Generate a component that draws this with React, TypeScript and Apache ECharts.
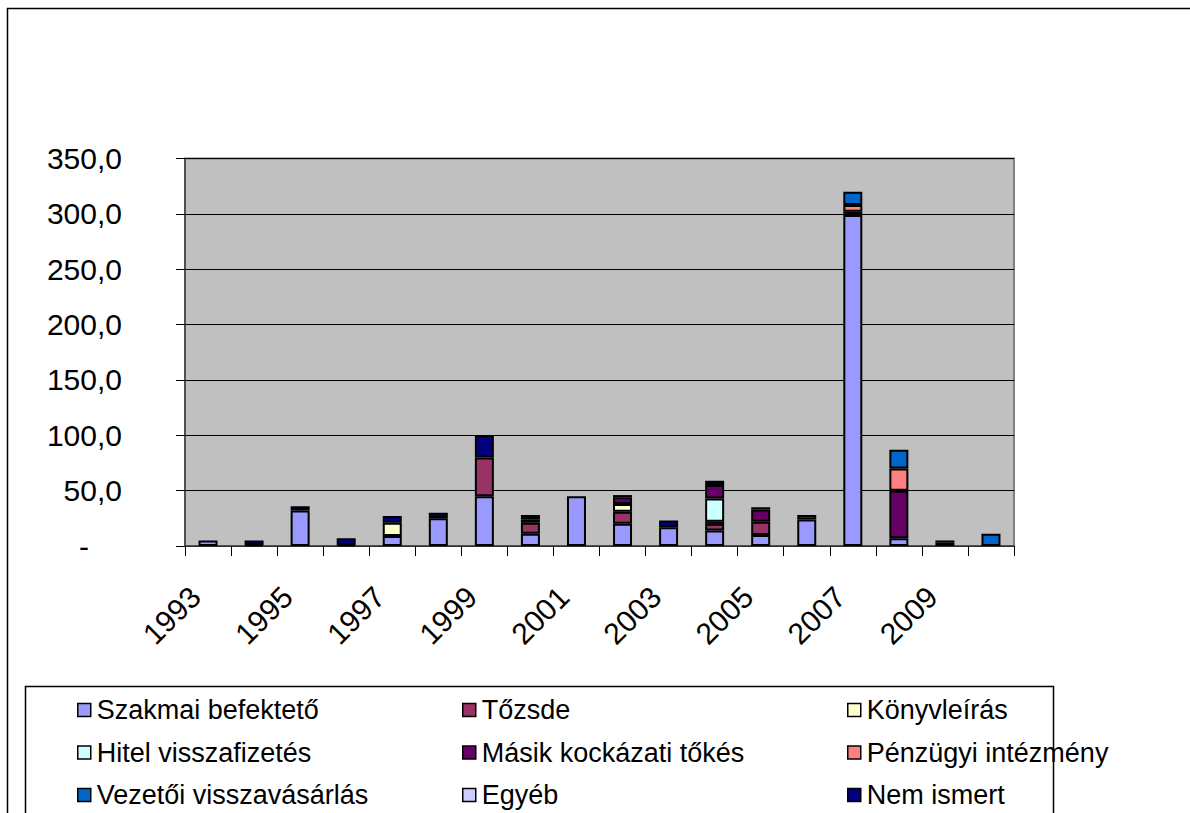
import React, { useEffect, useRef } from "react";
import * as echarts from "echarts";

const years = ["1993","1994","1995","1996","1997","1998","1999","2000","2001","2002","2003","2004","2005","2006","2007","2008","2009","2010"];

const seriesNames = [
  "Szakmai befektető",
  "Tőzsde",
  "Könyvleírás",
  "Hitel visszafizetés",
  "Másik kockázati tőkés",
  "Pénzügyi intézmény",
  "Vezetői visszavásárlás",
  "Egyéb",
  "Nem ismert",
];

const colors = ["#9999FF","#993366","#FFFFCC","#CCFFFF","#660066","#FF8080","#0066CC","#CCCCFF","#000080"];

const szakmai   = [5, 0, 32, 0, 9, 25, 45, 11, 45, 20, 17, 14, 10, 24, 299, 7, 0, 0];
const tozsde    = [0, 0, 0, 1, 0, 0, 35, 10, 0, 11, 0, 6, 12, 0, 0, 0, 0, 0];
const konyv     = [0, 1, 0, 0, 12, 0, 0, 0, 0, 7, 0, 2, 0, 0, 0, 0, 0, 0];
const hitel     = [0, 0, 0, 0, 0, 0, 0, 0, 0, 0, 0, 21, 0, 0, 0, 0, 0, 0];
const masik     = [0, 0, 0, 0, 0, 0, 0, 3, 0, 6, 0, 12, 11, 0, 3, 43, 0, 0];
const penzugyi  = [0, 0, 0, 0, 0, 0, 0, 0, 0, 0, 0, 0, 0, 0, 6, 20, 0, 0];
const vezetoi   = [0, 0, 0, 0, 0, 0, 0, 0, 0, 0, 0, 0, 0, 4, 12, 17, 3, 11];
const egyeb     = [0, 0, 0, 0, 0, 0, 0, 0, 0, 0, 0, 0, 0, 0, 0, 0, 0, 0];
const nemIsmert = [0, 4, 4, 6, 6, 5, 20, 4, 0, 2, 6, 4, 2, 0, 0, 0, 2, 0];

const allData = [szakmai, tozsde, konyv, hitel, masik, penzugyi, vezetoi, egyeb, nemIsmert];

const FONT = "'Liberation Sans', Arial, sans-serif";

export default function App() {
  const ref = useRef<HTMLDivElement>(null);
  useEffect(() => {
    if (!ref.current) return;
    const chart = echarts.init(ref.current, undefined, { renderer: "svg" });
    const series = seriesNames.map((name, i) => ({
      name,
      type: "bar",
      stack: "total",
      barWidth: 19,
      data: allData[i].map((v) => (v === 0 ? "-" : v)),
      itemStyle: { color: colors[i], borderColor: "#000", borderWidth: 2 },
      emphasis: { disabled: true },
    }));
    const legendCols = [0, 1, 2].map((c) => ({
      orient: "vertical",
      left: 77 + c * 385,
      top: 695,
      padding: 0,
      icon: "rect",
      itemWidth: 13,
      itemHeight: 13,
      itemGap: 12.5,
      selectedMode: false,
      data: [seriesNames[c], seriesNames[c + 3], seriesNames[c + 6]],
      itemStyle: { borderColor: "#000", borderWidth: 1.5 },
      textStyle: { fontFamily: FONT, fontSize: 27, color: "#000", lineHeight: 30, padding: [0, 0, 0, 1] },
    }));
    chart.setOption({
      animation: false,
      backgroundColor: "#fff",
      textStyle: { fontFamily: FONT },
      grid: {
        left: 185,
        top: 158.5,
        right: 176,
        bottom: 267,
        show: true,
        backgroundColor: "#C0C0C0",
        borderColor: "#808080",
        borderWidth: 2,
      },
      legend: legendCols,
      xAxis: {
        type: "category",
        data: years,
        boundaryGap: true,
        axisLine: { show: true, lineStyle: { color: "#404040", width: 1.5 } },
        axisTick: { show: true, interval: 0, length: 10, alignWithLabel: false, lineStyle: { color: "#000", width: 1 } },
        axisLabel: {
          interval: 1,
          rotate: 45,
          margin: 33,
          padding: [0, 18, 0, 0],
          fontSize: 30,
          color: "#000",
          fontFamily: FONT,
        },
      },
      yAxis: {
        type: "value",
        min: 0,
        max: 350,
        interval: 50,
        axisLine: { show: true, lineStyle: { color: "#404040", width: 1.5 } },
        axisTick: { show: true, length: 9, lineStyle: { color: "#000", width: 1 } },
        splitLine: { show: true, lineStyle: { color: "#000", width: 1 } },
        axisLabel: {
          margin: 63,
          fontSize: 30,
          color: "#000",
          fontFamily: FONT,
          formatter: (v: number) => (v === 0 ? "{z|-}" : v.toFixed(1).replace(".", ",")),
          rich: { z: { fontSize: 30, fontFamily: FONT, color: "#000", padding: [0, 33, 0, 0] } },
        },
      },
      graphic: [
        {
          type: "rect",
          shape: { x: 7.5, y: 8.5, width: 1300, height: 1000 },
          style: { fill: "none", stroke: "#000", lineWidth: 1.5 },
          silent: true,
          z: 100,
        },
        {
          type: "rect",
          shape: { x: 25.5, y: 686.5, width: 1028, height: 300 },
          style: { fill: "none", stroke: "#000", lineWidth: 1.5 },
          silent: true,
          z: 100,
        },
      ],
      series,
    });
    return () => chart.dispose();
  }, []);
  return (
    <div
      ref={ref}
      style={{ position: "fixed", left: 0, top: 0, width: 1190, height: 813 }}
    />
  );
}
